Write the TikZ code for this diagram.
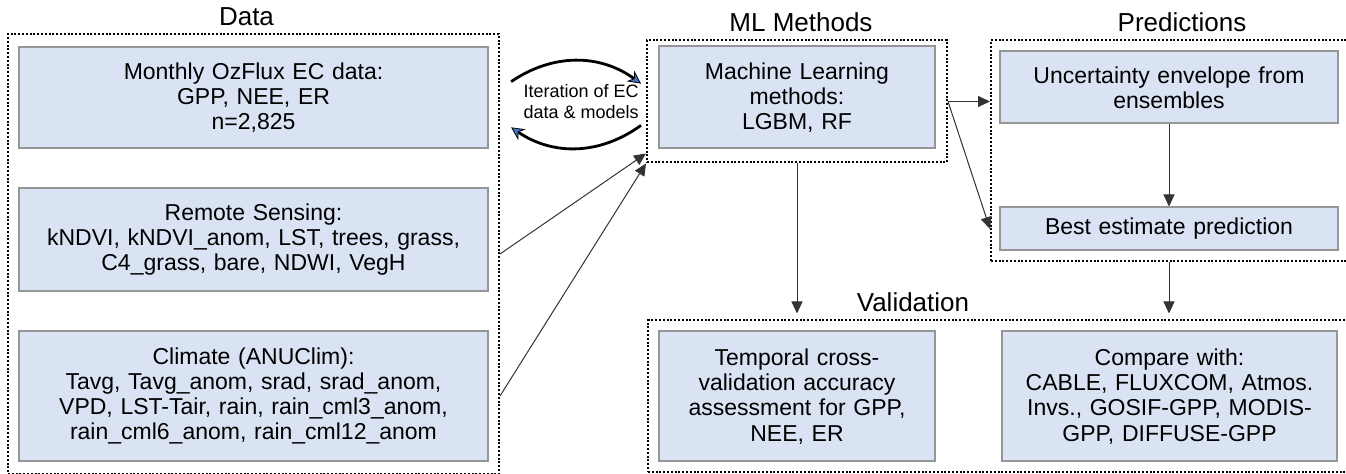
\documentclass[tikz,border=0pt]{standalone}
\usepackage{fontspec}
\setmainfont{Liberation Sans}
\usetikzlibrary{arrows.meta,positioning,fit}
\definecolor{boxfill}{RGB}{218,227,243}
\definecolor{boxline}{RGB}{150,150,150}
\definecolor{loopblue}{RGB}{68,114,196}

\begin{document}
\begin{tikzpicture}[
  font=\fontsize{11.5}{12.6}\selectfont,
  box/.style={draw=boxline, fill=boxfill, line width=1pt, align=center, inner sep=2pt},
  wide/.style={box, text width=230.5pt},
  narrow/.style={box, text width=134pt},
  medium/.style={box, text width=165pt},
  groupframe/.style={draw, line width=1pt, dash pattern=on 1pt off 0.9pt, inner sep=0pt},
  heading/.style={inner sep=0pt, font=\fontsize{13}{15}\selectfont},
  note/.style={inner sep=0pt, align=center, font=\fontsize{9}{10.85}\selectfont},
  flow/.style={-{Triangle[length=6pt, width=5.5pt]}, draw=black!80, line width=0.5pt},
  cyclearrow/.style={-{Stealth[length=6.5pt, width=6.5pt, fill=loopblue, line width=0.4pt]}, line width=1.4pt, bend left=35}
]
  \useasboundingbox (0,0) rectangle (673pt,-237pt);

  \node[wide, minimum height=50.5pt] (monthly) at (126.75pt,-48.75pt) {Monthly OzFlux EC data:\\GPP, NEE, ER\\n=2,825};
  \node[wide, minimum height=51.5pt, below=19pt of monthly] (remote) {Remote Sensing:\\kNDVI, kNDVI\_anom, LST, trees, grass,\\C4\_grass, bare, NDWI, VegH};
  \node[wide, minimum height=65pt, below=19pt of remote] (climate) {Climate (ANUClim):\\Tavg, Tavg\_anom, srad, srad\_anom,\\VPD, LST-Tair, rain, rain\_cml3\_anom,\\rain\_cml6\_anom, rain\_cml12\_anom};
  \node[narrow, minimum height=51pt, right=84.5pt of monthly] (ml) {Machine Learning\\methods:\\LGBM, RF};
  \node[medium, minimum height=36pt, below right=2.5pt and 31.5pt of ml.north east] (uncert) {Uncertainty envelope from\\ensembles};
  \node[medium, minimum height=21.5pt, below=41pt of uncert] (best) {Best estimate prediction};
  \node[narrow, minimum height=65pt, below=90.5pt of ml] (temporal) {Temporal cross-\\validation accuracy\\assessment for GPP,\\NEE, ER};
  \node[medium, text width=163.5pt, minimum height=65pt, right=32.5pt of temporal] (compare) {Compare with:\\CABLE, FLUXCOM, Atmos.\\Invs., GOSIF-GPP, MODIS-\\GPP, DIFFUSE-GPP};

  \coordinate (mlfoot) at ([yshift=-4pt]ml.south);
  \node[groupframe, fit=(monthly)(remote)(climate), inner xsep=5pt, inner ysep=6pt] (dataframe) {};
  \node[groupframe, fit=(ml)(mlfoot), inner xsep=5.5pt, inner ysep=2.5pt] (mlframe) {};
  \node[groupframe, fit=(uncert)(best), inner xsep=4pt, inner ysep=5pt] (predframe) {};
  \node[groupframe, fit=(temporal)(compare), inner xsep=5pt, inner ysep=5pt] (valframe) {};

  \node[heading, above=3.5pt of dataframe, xshift=-3.5pt] (datatitle) {Data};
  \node[heading, above=3.5pt of mlframe, xshift=2pt] (mltitle) {ML Methods};
  \node[heading, above=3.5pt of predframe, xshift=6.5pt] (predtitle) {Predictions};
  \node[heading, above=3.5pt of valframe, xshift=-42.5pt] (valtitle) {Validation};

  \node[note, left=3.5pt of mlframe] (iter) {Iteration of EC\\data \& models};
  \draw[cyclearrow] ([xshift=-6pt,yshift=1pt]iter.north west) to ([xshift=1pt]iter.north east);
  \draw[cyclearrow] ([xshift=1pt,yshift=-3pt]iter.south east) to ([xshift=-6pt,yshift=-4pt]iter.south west);

  \draw[flow] (dataframe.east) -- ([yshift=5pt]mlframe.south west);
  \draw[flow] (dataframe.east |- climate) -- (mlframe.south west);
  \draw[flow] (mlframe.east) -- (mlframe.east -| predframe.west);
  \draw[flow] (mlframe.east) -- (predframe.west |- best);
  \draw[flow] (uncert) -- (best);
  \draw[flow, shorten >=3pt] (mlframe.south) -- (mlframe.south |- valframe.north);
  \draw[flow, shorten >=3pt] (predframe.south) -- (predframe.south |- valframe.north);
\end{tikzpicture}
\end{document}
